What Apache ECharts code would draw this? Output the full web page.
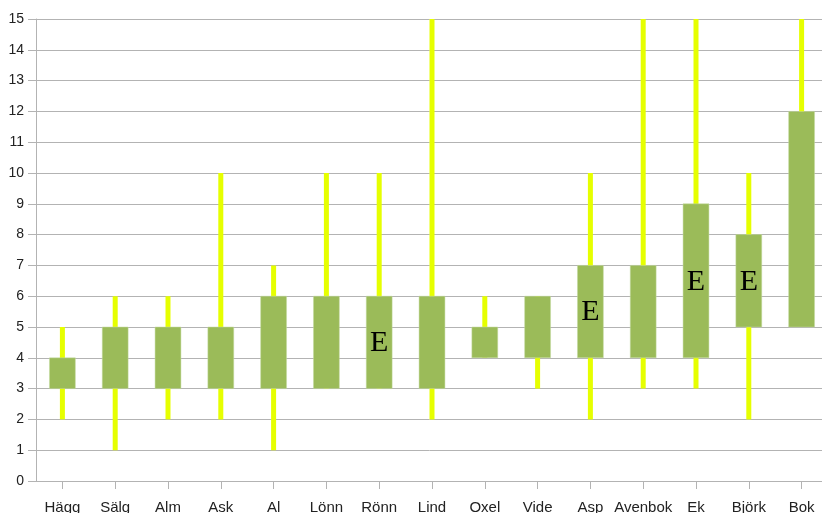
<!DOCTYPE html>
<html>
<head>
<meta charset="utf-8">
<script src="https://cdn.jsdelivr.net/npm/echarts@6/dist/echarts.min.js"></script>
<style>
  html, body { margin: 0; padding: 0; background: #fff; overflow: hidden; }
  #chart { width: 822px; height: 513px; }
</style>
</head>
<body>
<div id="chart"></div>
<script>
// Tree species and their ranges: whisker low/high and box low/high
const categories = ['Hägg', 'Sälg', 'Alm', 'Ask', 'Al', 'Lönn', 'Rönn', 'Lind', 'Oxel', 'Vide', 'Asp', 'Avenbok', 'Ek', 'Björk', 'Bok'];
const rangeLow  = [2, 1, 2, 2, 1, 3, 3, 2, 4, 3, 2, 3, 3, 2, 5];
const rangeHigh = [5, 6, 6, 10, 7, 10, 10, 15, 6, 6, 10, 15, 15, 10, 15];
const boxLow    = [3, 3, 3, 3, 3, 3, 3, 3, 4, 4, 4, 4, 4, 5, 5];
const boxHigh   = [4, 5, 5, 5, 6, 6, 6, 6, 5, 6, 7, 7, 9, 8, 12];
const marks     = ['', '', '', '', '', '', 'E', '', '', '', 'E', '', 'E', 'E', ''];
const yTicks    = [0, 15, 1];

const data = categories.map((c, i) => [i, rangeLow[i], rangeHigh[i], boxLow[i], boxHigh[i], marks[i]]);

const chart = echarts.init(document.getElementById('chart'), null, { renderer: 'canvas' });

function renderItem(params, api) {
  const i = api.value(0);
  const wLo = api.coord([i, api.value(1)]);
  const wHi = api.coord([i, api.value(2)]);
  const bLo = api.coord([i, api.value(3)]);
  const bHi = api.coord([i, api.value(4)]);
  const band = api.size([1, 0])[0];
  const boxW = band * 0.49;
  const whiskW = 5;
  const cx = wLo[0];
  const children = [
    {
      type: 'rect',
      shape: { x: cx - whiskW / 2, y: wHi[1], width: whiskW, height: wLo[1] - wHi[1] },
      style: { fill: '#e6ff00' }
    },
    {
      type: 'rect',
      shape: { x: cx - boxW / 2, y: bHi[1], width: boxW, height: bLo[1] - bHi[1] },
      style: { fill: '#9bbb59', stroke: '#c4dba0', lineWidth: 0.5 }
    }
  ];
  const mark = data[params.dataIndex][5];
  if (mark) {
    children.push({
      type: 'text',
      style: {
        text: mark,
        x: cx,
        y: (bHi[1] + bLo[1]) / 2 + 1,
        align: 'center',
        verticalAlign: 'middle',
        fill: '#000',
        font: '30px "Liberation Serif", "DejaVu Serif", serif'
      }
    });
  }
  return { type: 'group', children };
}

chart.setOption({
  animation: false,
  backgroundColor: '#fff',
  grid: { left: 36, width: 792, top: 19, bottom: 32, containLabel: false, outerBoundsMode: 'none' },
  xAxis: {
    type: 'category',
    data: categories,
    boundaryGap: true,
    axisLine: { show: true, lineStyle: { color: '#b3b3b3', width: 1 } },
    axisTick: { show: true, alignWithLabel: true, length: 8, lineStyle: { color: '#b3b3b3' } },
    axisLabel: { color: '#222', fontSize: 15, margin: 19, fontFamily: '"Liberation Sans", Arial, sans-serif', interval: 0 },
    splitLine: { show: false }
  },
  yAxis: {
    type: 'value',
    min: yTicks[0],
    max: yTicks[1],
    interval: yTicks[2],
    axisLine: { show: true, lineStyle: { color: '#b3b3b3', width: 1 } },
    axisTick: { show: true, length: 8, lineStyle: { color: '#b3b3b3' } },
    axisLabel: { color: '#222', fontSize: 14, margin: 12, fontFamily: '"Liberation Sans", Arial, sans-serif' },
    splitLine: { show: true, lineStyle: { color: '#b3b3b3', width: 1 } }
  },
  series: [{
    type: 'custom',
    renderItem: renderItem,
    encode: { x: 0, y: [1, 2] },
    data: data,
    clip: false
  }]
});
</script>
</body>
</html>
